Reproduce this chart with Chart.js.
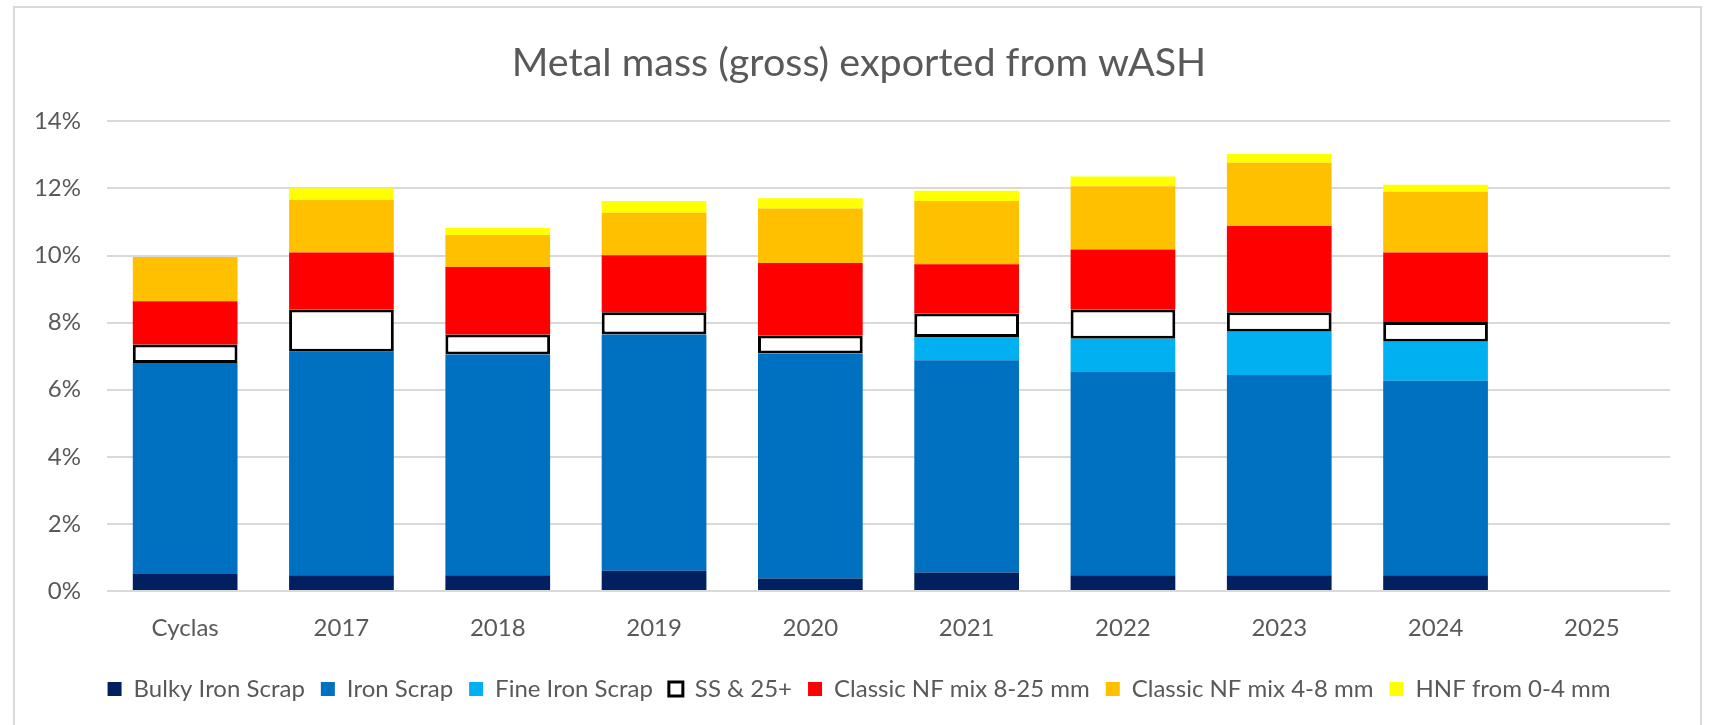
<!DOCTYPE html>
<html>
<head>
<meta charset="utf-8">
<script src="https://cdn.jsdelivr.net/npm/chart.js@4"></script>
<style>
  html, body { margin: 0; padding: 0; background: #fff; }
  #frame {
    position: absolute; left: 13px; top: 6px; width: 1689px; height: 760px;
    border: 2px solid #d9d9d9; box-sizing: border-box;
  }
  #wrap { position: absolute; left: 0; top: 0; width: 1711px; height: 725px; }
</style>
</head>
<body>
<div id="frame"></div>
<div id="wrap"><canvas id="myChart" width="1711" height="725"></canvas></div>
<script>
'use strict';

// 横軸のカテゴリ
const categories = ['Cyclas', '2017', '2018', '2019', '2020', '2021', '2022', '2023', '2024', '2025'];

// 各系列の値 (%)
const bulkyIron = [0.51, 0.47, 0.47, 0.60, 0.37, 0.55, 0.47, 0.47, 0.47, null];
const ironScrap = [6.29, 6.66, 6.58, 7.05, 6.71, 6.33, 6.06, 5.97, 5.80, null];
const fineIron = [0, 0, 0, 0, 0, 0.69, 0.99, 1.29, 1.16, null];
const ss25 = [0.55, 1.26, 0.60, 0.66, 0.54, 0.70, 0.87, 0.58, 0.59, null];
const nf825 = [1.29, 1.70, 2.01, 1.70, 2.16, 1.47, 1.79, 2.57, 2.07, null];
const nf48 = [1.32, 1.57, 0.95, 1.27, 1.62, 1.89, 1.89, 1.89, 1.81, null];
const hnf04 = [0, 0.35, 0.21, 0.35, 0.31, 0.30, 0.29, 0.26, 0.21, null];

// Y軸の目盛
const yTicks = [0, 2, 4, 6, 8, 10, 12, 14];

Chart.defaults.font.family = 'Lato, "Open Sans", sans-serif';
Chart.defaults.color = '#595959';

const ctx = document.getElementById('myChart').getContext('2d');

const data = {
  labels: categories,
  datasets: [
    { label: 'Bulky Iron Scrap', data: bulkyIron, backgroundColor: '#002060', borderWidth: 0 },
    { label: 'Iron Scrap', data: ironScrap, backgroundColor: '#0070C0', borderWidth: 0 },
    { label: 'Fine Iron Scrap', data: fineIron, backgroundColor: '#00B0F0', borderWidth: 0 },
    { label: 'SS & 25+', data: ss25, backgroundColor: '#FFFFFF', borderColor: '#000000', borderWidth: 3, borderSkipped: false },
    { label: 'Classic NF mix 8-25 mm', data: nf825, backgroundColor: '#FF0000', borderWidth: 0 },
    { label: 'Classic NF mix 4-8 mm', data: nf48, backgroundColor: '#FFC000', borderWidth: 0 },
    { label: 'HNF from 0-4 mm', data: hnf04, backgroundColor: '#FFFF00', borderWidth: 0 },
  ]
};

const options = {
  responsive: false,
  animation: false,
  layout: { padding: { left: 14, right: 7, top: 0, bottom: 14 } },
  datasets: {
    bar: { categoryPercentage: 0.67, barPercentage: 1.0 }
  },
  scales: {
    x: {
      stacked: true,
      grid: { display: false },
      border: { display: false },
      ticks: { font: { size: 24 }, padding: 15, maxRotation: 0 },
      afterFit: (s) => { s.height = 70; }
    },
    y: {
      stacked: true,
      min: 0,
      max: 14,
      afterBuildTicks: (s) => { s.ticks = yTicks.map(v => ({ value: v })); },
      grid: { color: '#d9d9d9', lineWidth: 2, drawTicks: false },
      border: { display: false },
      ticks: { font: { size: 24 }, padding: 26, callback: (v) => v + '%' },
      afterFit: (s) => { s.width = 93; }
    },
    // 右側の余白用 (表示なし)
    y2: {
      position: 'right',
      display: true,
      grid: { display: false },
      border: { display: false },
      ticks: { display: false },
      afterFit: (s) => { s.width = 34; }
    }
  },
  plugins: {
    title: {
      display: true,
      text: 'Metal mass (gross) exported from wASH',
      font: { size: 39.5, weight: 'normal' },
      color: '#595959',
      padding: { top: 40, bottom: 34 }
    },
    legend: {
      position: 'bottom',
      labels: {
        font: { size: 24 },
        boxWidth: 14,
        boxHeight: 14,
        padding: 16,
        color: '#595959'
      }
    },
    tooltip: { enabled: false }
  }
};

const myChart = new Chart(ctx, { type: 'bar', data: data, options: options });
</script>
</body>
</html>
